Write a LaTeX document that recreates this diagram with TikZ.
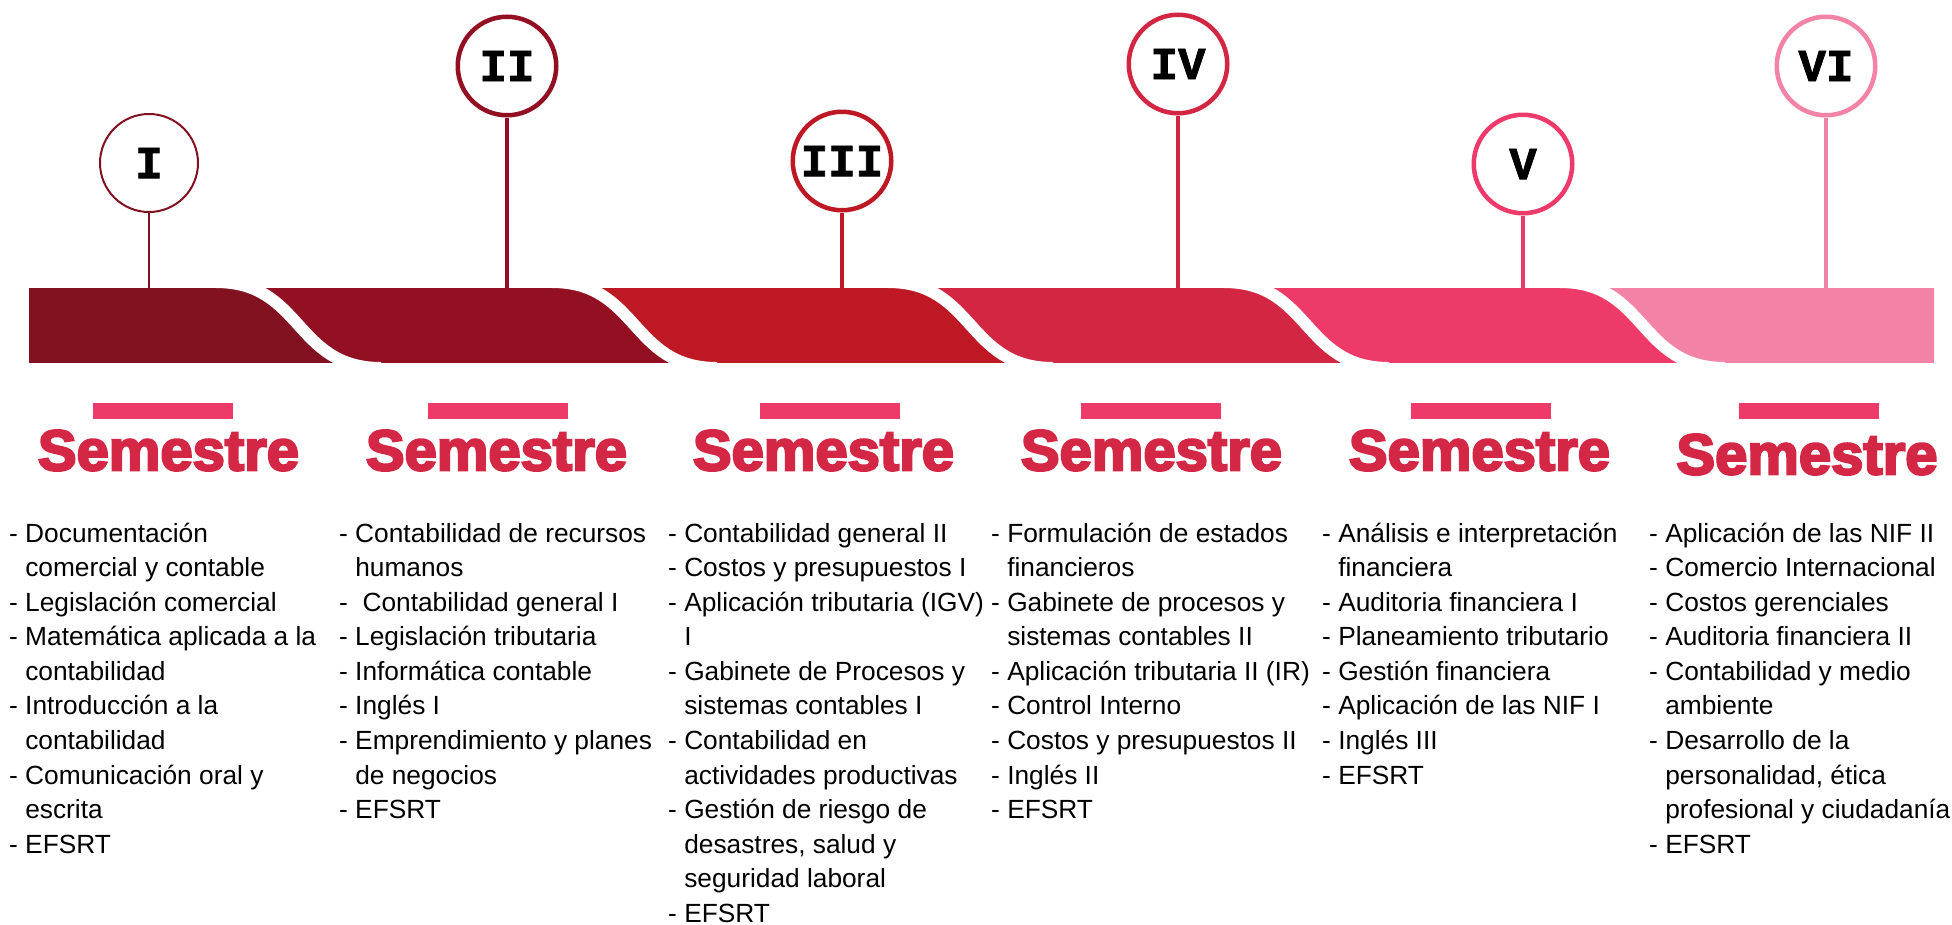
\documentclass[tikz,border=0pt]{standalone}
\usepackage{fontspec}
\setmainfont{Liberation Sans}
\newfontfamily\numfont[FakeBold=1.5]{Liberation Mono Bold}
\newfontfamily\semfont[FakeBold=4]{Liberation Sans Bold}
\definecolor{cA}{HTML}{82121F}
\definecolor{cB}{HTML}{930F22}
\definecolor{cC}{HTML}{BD1824}
\definecolor{cD}{HTML}{D32642}
\definecolor{cE}{HTML}{EE3A69}
\definecolor{cF}{HTML}{F383A6}
\definecolor{cS}{HTML}{D42645}
\newcommand{\myind}{\hphantom{- }}
\newcommand{\mystrut}{\rule{0pt}{26.3pt}}
\tikzset{
  roman/.style={circle, draw=#1, fill=white, line width=4.5pt, minimum size=98.5pt, inner sep=0pt,
    font=\numfont\fontsize{46}{46}\selectfont},
  stemline/.style={draw=#1, line width=4.5pt},
  pinkbar/.style={fill=cE, minimum width=140pt, minimum height=16pt, inner sep=0pt},
  head/.style={anchor=south, inner sep=0pt, text=cS},
  list/.style={anchor=north west, inner sep=0pt, align=left,
    font=\fontsize{26.3}{34.55}\selectfont},
  gap/.style={white, line width=12pt}
}
\begin{document}
\begin{tikzpicture}[x=1pt, y=-1pt]
\useasboundingbox (0,0) rectangle (1952,924);
\fill[white] (0,0) rectangle (1952,924);

% timeline band
\begin{scope}
  \clip (29,288) rectangle (1934,362);
  \fill[cF] (0,282) rectangle (1952,368);
  \foreach \k/\c in {5/cE,4/cD,3/cC,2/cB,1/cA}{
    \pgfmathsetmacro\xs{216+336*(\k-1)}
    \fill[\c] (0,282) -- (0,368) -- (\xs+165,368)
      .. controls (\xs+78,368) and (\xs+87,282) .. (\xs,282) -- cycle;
  }
  \foreach \k in {1,...,5}{
    \pgfmathsetmacro\xs{216+336*(\k-1)}
    \draw[gap] (\xs,282) .. controls (\xs+87,282) and (\xs+78,368) .. (\xs+165,368);
  }
\end{scope}

% stems attach points
\coordinate (b1) at (149,288);
\coordinate (b2) at (507,288);
\coordinate (b3) at (842,288);
\coordinate (b4) at (1178,288);
\coordinate (b5) at (1523,288);
\coordinate (b6) at (1826,288);

% circles
\node[roman=cA, line width=2pt, minimum size=98pt] (n1) at (149,163) {I};
\node[roman=cB] (n2) at (507,66) {II};
\node[roman=cC] (n3) at (842,161) {III};
\node[roman=cD] (n4) at (1178,64) {IV};
\node[roman=cE] (n5) at (1523,164) {V};
\node[roman=cF] (n6) at (1826,66) {VI};

\draw[stemline=cA, line width=2pt] (n1) -- (b1);
\draw[stemline=cB] (n2) -- (b2);
\draw[stemline=cC] (n3) -- (b3);
\draw[stemline=cD] (n4) -- (b4);
\draw[stemline=cE] (n5) -- (b5);
\draw[stemline=cF] (n6) -- (b6);

% pink bars
\node[pinkbar] (r1) at (163,411) {};
\node[pinkbar] (r2) at (498,411) {};
\node[pinkbar] (r3) at (830,411) {};
\node[pinkbar] (r4) at (1151,411) {};
\node[pinkbar] (r5) at (1481,411) {};
\node[pinkbar] (r6) at (1809,411) {};

% headings
\node[head] (h1) at (168.5,471) {\resizebox{261pt}{40pt}{\semfont Semestre}};
\node[head] (h2) at (496.5,471) {\resizebox{261pt}{40pt}{\semfont Semestre}};
\node[head] (h3) at (823.5,471) {\resizebox{261pt}{40pt}{\semfont Semestre}};
\node[head] (h4) at (1151.5,471) {\resizebox{261pt}{40pt}{\semfont Semestre}};
\node[head] (h5) at (1479.5,471) {\resizebox{261pt}{40pt}{\semfont Semestre}};
\node[head] (h6) at (1807,475) {\resizebox{261pt}{40pt}{\semfont Semestre}};

% course lists
\node[list] (l1) at (9,515.7) {\mystrut- Documentación\\
\myind comercial y contable\\
- Legislación comercial\\
- Matemática aplicada a la\\
\myind contabilidad\\
- Introducción a la\\
\myind contabilidad\\
- Comunicación oral y\\
\myind escrita\\
- EFSRT};

\node[list] (l2) at (339,515.7) {\mystrut- Contabilidad de recursos\\
\myind humanos\\
- \ Contabilidad general I\\
- Legislación tributaria\\
- Informática contable\\
- Inglés I\\
- Emprendimiento y planes\\
\myind de negocios\\
- EFSRT};

\node[list] (l3) at (668,515.7) {\mystrut- Contabilidad general II\\
- Costos y presupuestos I\\
- Aplicación tributaria (IGV)\\
\myind I\\
- Gabinete de Procesos y\\
\myind sistemas contables I\\
- Contabilidad en\\
\myind actividades productivas\\
- Gestión de riesgo de\\
\myind desastres, salud y\\
\myind seguridad laboral\\
- EFSRT};

\node[list] (l4) at (991,515.7) {\mystrut- Formulación de estados\\
\myind financieros\\
- Gabinete de procesos y\\
\myind sistemas contables II\\
- Aplicación tributaria II (IR)\\
- Control Interno\\
- Costos y presupuestos II\\
- Inglés II\\
- EFSRT};

\node[list] (l5) at (1322,515.7) {\mystrut- Análisis e interpretación\\
\myind financiera\\
- Auditoria financiera I\\
- Planeamiento tributario\\
- Gestión financiera\\
- Aplicación de las NIF I\\
- Inglés III\\
- EFSRT};

\node[list] (l6) at (1649,515.7) {\mystrut- Aplicación de las NIF II\\
- Comercio Internacional\\
- Costos gerenciales\\
- Auditoria financiera II\\
- Contabilidad y medio\\
\myind ambiente\\
- Desarrollo de la\\
\myind personalidad, ética\\
\myind profesional y ciudadanía\\
- EFSRT};
\end{tikzpicture}
\end{document}
